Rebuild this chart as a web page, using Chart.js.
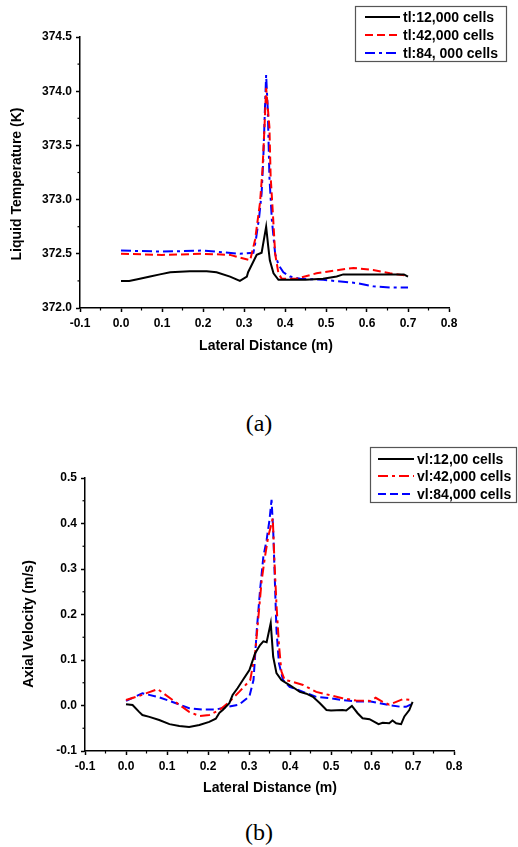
<!DOCTYPE html>
<html>
<head>
<meta charset="utf-8">
<title>Grid independence - temperature and velocity</title>
<script src="https://cdn.jsdelivr.net/npm/chart.js@4.4.0/dist/chart.umd.min.js"></script>
<style>
  body { margin: 0; background: #fff; }
  .page { position: relative; width: 518px; height: 847px; overflow: hidden; }
  canvas { position: absolute; left: 0; }
  #tempChart { top: 0; }
  #velChart { top: 440px; }
  .caption {
    position: absolute; left: 0; width: 518px; text-align: center;
    font-family: "Liberation Serif", "Times New Roman", serif;
    font-size: 24px; line-height: 24px; color: #000;
  }
</style>
</head>
<body>
<div class="page">
  <canvas id="tempChart" width="518" height="370"></canvas>
  <div class="caption" style="top:411px">(a)</div>
  <canvas id="velChart" width="518" height="370"></canvas>
  <div class="caption" style="top:820px">(b)</div>
</div>
<script>
// axis ticks
const distTicks = [-0.1, 0.0, 0.1, 0.2, 0.3, 0.4, 0.5, 0.6, 0.7, 0.8];
const tempTicks = [372.0, 372.5, 373.0, 373.5, 374.0, 374.5];
const velTicks = [-0.1, 0.0, 0.1, 0.2, 0.3, 0.4, 0.5];

// (a) liquid temperature (K) vs lateral distance (m)
const tempX12k = [0, 0.02, 0.046, 0.071, 0.095, 0.12, 0.168, 0.209, 0.233, 0.266, 0.29, 0.307, 0.31, 0.331, 0.343, 0.354, 0.359, 0.363, 0.372, 0.384, 0.388, 0.45, 0.493, 0.526, 0.542, 0.6, 0.69, 0.7];
const tempY12k = [372.25, 372.25, 372.27, 372.29, 372.31, 372.33, 372.34, 372.34, 372.33, 372.29, 372.25, 372.29, 372.33, 372.49, 372.51, 372.75, 372.57, 372.44, 372.32, 372.26, 372.26, 372.26, 372.27, 372.29, 372.31, 372.31, 372.31, 372.29];

const tempX42k = [0, 0.1, 0.2, 0.266, 0.315, 0.327, 0.339, 0.345, 0.35, 0.354, 0.362, 0.365, 0.37, 0.376, 0.384, 0.392, 0.428, 0.477, 0.51, 0.567, 0.615, 0.656, 0.693, 0.7];
const tempY42k = [372.50, 372.49, 372.50, 372.49, 372.44, 372.63, 372.97, 373.27, 373.67, 374.03, 373.67, 373.21, 372.90, 372.50, 372.32, 372.27, 372.27, 372.32, 372.34, 372.37, 372.35, 372.32, 372.30, 372.29];

const tempX84k = [0, 0.1, 0.2, 0.29, 0.323, 0.329, 0.337, 0.343, 0.347, 0.351, 0.354, 0.358, 0.362, 0.368, 0.376, 0.384, 0.396, 0.412, 0.437, 0.493, 0.575, 0.615, 0.656, 0.7];
const tempY84k = [372.53, 372.52, 372.53, 372.50, 372.51, 372.63, 372.84, 373.06, 373.37, 373.83, 374.15, 373.83, 373.21, 372.81, 372.50, 372.40, 372.33, 372.29, 372.27, 372.26, 372.23, 372.20, 372.19, 372.19];

// (b) axial velocity (m/s) vs lateral distance (m)
const velX12k = [0, 0.016, 0.032, 0.04, 0.057, 0.081, 0.106, 0.13, 0.154, 0.179, 0.203, 0.219, 0.228, 0.236, 0.252, 0.26, 0.272, 0.285, 0.301, 0.315, 0.327, 0.335, 0.343, 0.353, 0.359, 0.367, 0.379, 0.399, 0.424, 0.44, 0.456, 0.473, 0.489, 0.5, 0.528, 0.537, 0.551, 0.565, 0.577, 0.594, 0.616, 0.626, 0.642, 0.65, 0.659, 0.671, 0.679, 0.691, 0.699];
const velY12k = [0.003, 0.001, -0.014, -0.021, -0.025, -0.032, -0.041, -0.045, -0.047, -0.043, -0.036, -0.029, -0.016, -0.010, 0.005, 0.023, 0.038, 0.056, 0.078, 0.115, 0.133, 0.141, 0.139, 0.181, 0.107, 0.071, 0.056, 0.045, 0.030, 0.026, 0.019, 0.005, -0.010, -0.011, -0.010, -0.011, -0.001, -0.017, -0.028, -0.030, -0.041, -0.038, -0.039, -0.033, -0.039, -0.041, -0.024, -0.010, 0.008];

const velX42k = [0, 0.032, 0.077, 0.114, 0.154, 0.179, 0.203, 0.228, 0.252, 0.276, 0.303, 0.315, 0.331, 0.339, 0.347, 0.353, 0.358, 0.362, 0.367, 0.373, 0.379, 0.387, 0.399, 0.432, 0.464, 0.496, 0.528, 0.561, 0.597, 0.609, 0.626, 0.642, 0.659, 0.675, 0.699];
const velY42k = [0.012, 0.021, 0.036, 0.012, -0.014, -0.023, -0.021, -0.010, 0.008, 0.030, 0.056, 0.115, 0.276, 0.327, 0.372, 0.393, 0.411, 0.318, 0.222, 0.134, 0.075, 0.056, 0.054, 0.045, 0.030, 0.023, 0.016, 0.011, 0.010, 0.017, 0.008, 0.002, 0.008, 0.014, 0.012];

const velX84k = [0, 0.04, 0.081, 0.122, 0.154, 0.187, 0.219, 0.252, 0.276, 0.301, 0.311, 0.319, 0.327, 0.335, 0.343, 0.35, 0.355, 0.359, 0.363, 0.367, 0.373, 0.383, 0.399, 0.432, 0.464, 0.496, 0.528, 0.561, 0.597, 0.618, 0.642, 0.671, 0.683, 0.699];
const velY84k = [0.010, 0.027, 0.018, 0.005, -0.006, -0.009, -0.009, -0.002, 0.002, 0.020, 0.056, 0.166, 0.254, 0.327, 0.364, 0.408, 0.452, 0.386, 0.276, 0.166, 0.093, 0.056, 0.041, 0.030, 0.019, 0.016, 0.012, 0.009, 0.009, 0.005, 0.001, -0.003, -0.003, 0.004];

Chart.defaults.font.family = "'Liberation Sans', Arial, sans-serif";
Chart.defaults.color = '#000';

const points = (xs, ys) => xs.map((x, i) => ({ x, y: ys[i] }));

const DASH = [8, 4];
const DASH_DOT = [10, 4, 3, 4];

function line(label, xs, ys, color, dash) {
  return {
    label,
    data: points(xs, ys),
    borderColor: color,
    borderWidth: 2,
    borderDash: dash,
    pointRadius: 0,
    tension: 0,
    fill: false
  };
}

function axis(min, max, ticks, digits, fitSize, isX) {
  return {
    type: 'linear',
    min,
    max,
    afterBuildTicks: s => { s.ticks = ticks.map(v => ({ value: v })); },
    afterFit: s => { if (isX) s.height = fitSize; else s.width = fitSize; },
    ticks: {
      callback: v => Number(v).toFixed(digits),
      color: '#000',
      font: { size: 12, weight: 'bold' },
      padding: 4,
      maxRotation: 0,
      autoSkip: false
    },
    grid: { drawOnChartArea: false, drawTicks: true, tickLength: 4, tickWidth: 1.5, tickColor: '#000' },
    border: { display: true, color: '#000', width: 1.5 }
  };
}

// minor ticks, axis titles and boxed legend
const decor = {
  id: 'decor',
  afterDraw(chart, args, opts) {
    const ctx = chart.ctx;
    ctx.save();
    ctx.strokeStyle = '#000';
    ctx.lineWidth = 1.2;
    ['x', 'y'].forEach(id => {
      const s = chart.scales[id];
      for (let i = 0; i < s.ticks.length - 1; i++) {
        const p = s.getPixelForValue((s.ticks[i].value + s.ticks[i + 1].value) / 2);
        ctx.beginPath();
        if (id === 'x') { ctx.moveTo(p, s.top); ctx.lineTo(p, s.top + 2.5); }
        else { ctx.moveTo(s.right, p); ctx.lineTo(s.right - 2.5, p); }
        ctx.stroke();
      }
    });

    ctx.fillStyle = '#000';
    ctx.font = "bold 14px 'Liberation Sans', Arial, sans-serif";
    ctx.textAlign = 'center';
    ctx.textBaseline = 'middle';
    ctx.fillText(opts.xTitle.text, opts.xTitle.x, opts.xTitle.y);
    ctx.save();
    ctx.translate(opts.yTitle.x, opts.yTitle.y);
    ctx.rotate(-Math.PI / 2);
    ctx.fillText(opts.yTitle.text, 0, 0);
    ctx.restore();

    const lg = opts.legend;
    ctx.strokeStyle = '#555';
    ctx.lineWidth = 1.2;
    ctx.strokeRect(lg.left, lg.top, lg.width, lg.height);
    ctx.textAlign = 'left';
    chart.data.datasets.forEach((ds, i) => {
      const y = lg.rows[i];
      ctx.strokeStyle = ds.borderColor;
      ctx.lineWidth = ds.borderWidth;
      ctx.setLineDash(ds.borderDash || []);
      ctx.beginPath();
      ctx.moveTo(lg.lineFrom, y);
      ctx.lineTo(lg.lineTo, y);
      ctx.stroke();
      ctx.setLineDash([]);
      ctx.fillText(ds.label, lg.textX, y + 1);
    });
    ctx.restore();
  }
};

function makeChart(id, datasets, yAxis, xFitHeight, yFitWidth, padding, decorOpts) {
  return new Chart(document.getElementById(id), {
    type: 'line',
    data: { datasets },
    options: {
      responsive: false,
      animation: false,
      layout: { padding },
      plugins: { legend: { display: false }, tooltip: { enabled: false }, decor: decorOpts },
      scales: {
        x: axis(-0.1, 0.8, distTicks, 1, xFitHeight, true),
        y: axis(yAxis.min, yAxis.max, yAxis.ticks, 1, yFitWidth, false)
      }
    },
    plugins: [decor]
  });
}

makeChart('tempChart', [
  line('tl:12,000 cells', tempX12k, tempY12k, '#000000', []),
  line('tl:42,000 cells', tempX42k, tempY42k, '#ff0000', DASH),
  line('tl:84, 000 cells', tempX84k, tempY84k, '#0000ff', DASH_DOT)
], { min: 372, max: 374.5, ticks: tempTicks }, 62, 80, { left: 0, right: 69, top: 37, bottom: 0 }, {
  xTitle: { text: 'Lateral Distance (m)', x: 266, y: 346 },
  yTitle: { text: 'Liquid Temperature (K)', x: 17, y: 184 },
  legend: { left: 355.5, top: 6.5, width: 151, height: 55, rows: [17, 35, 53], lineFrom: 365, lineTo: 400, textX: 403 }
});

makeChart('velChart', [
  line('vl:12,00 cells', velX12k, velY12k, '#000000', []),
  line('vl:42,000 cells', velX42k, velY42k, '#ff0000', DASH_DOT),
  line('vl:84,000 cells', velX84k, velY84k, '#0000ff', DASH)
], { min: -0.1, max: 0.5, ticks: velTicks }, 59, 85, { left: 0, right: 64, top: 38, bottom: 0 }, {
  xTitle: { text: 'Lateral Distance (m)', x: 270, y: 348 },
  yTitle: { text: 'Axial Velocity (m/s)', x: 29, y: 184 },
  legend: { left: 370.5, top: 7.5, width: 146, height: 55, rows: [19, 36, 54], lineFrom: 378, lineTo: 414, textX: 417 }
});
</script>
</body>
</html>
